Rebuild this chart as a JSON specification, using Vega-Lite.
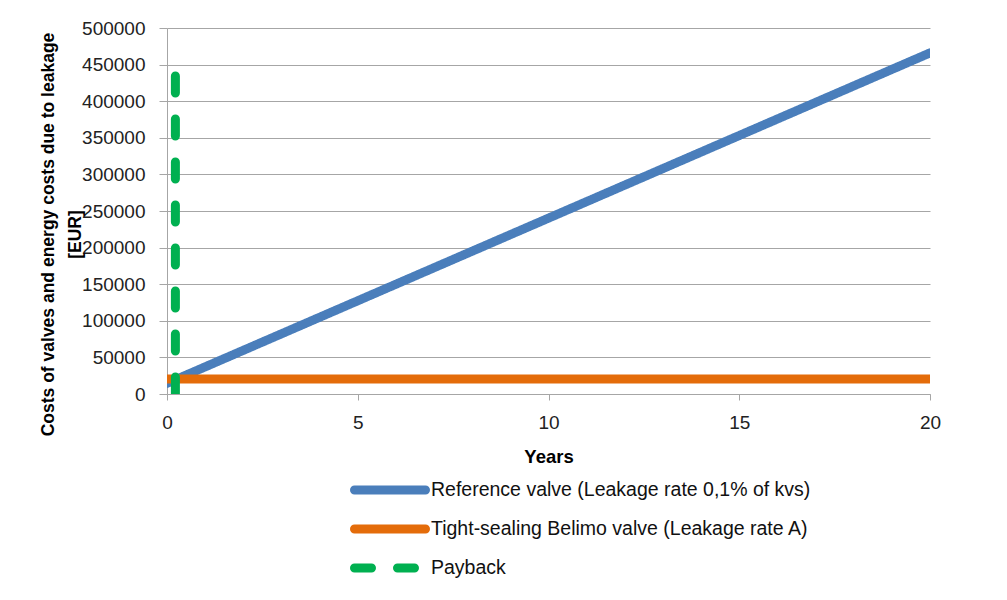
{
  "$schema": "https://vega.github.io/schema/vega-lite/v6.json",
  "width": 763,
  "height": 366,
  "autosize": {"type": "none"},
  "padding": {"left": 167, "top": 28, "right": 77, "bottom": 206},
  "background": "white",
  "config": {
    "view": {"stroke": null},
    "font": "Liberation Sans"
  },
  "data": {
    "values": [
      {"series": "Reference valve (Leakage rate 0,1% of kvs)", "year": 0, "cost": 14500},
      {"series": "Reference valve (Leakage rate 0,1% of kvs)", "year": 1, "cost": 37075},
      {"series": "Reference valve (Leakage rate 0,1% of kvs)", "year": 2, "cost": 59650},
      {"series": "Reference valve (Leakage rate 0,1% of kvs)", "year": 3, "cost": 82225},
      {"series": "Reference valve (Leakage rate 0,1% of kvs)", "year": 4, "cost": 104800},
      {"series": "Reference valve (Leakage rate 0,1% of kvs)", "year": 5, "cost": 127375},
      {"series": "Reference valve (Leakage rate 0,1% of kvs)", "year": 6, "cost": 149950},
      {"series": "Reference valve (Leakage rate 0,1% of kvs)", "year": 7, "cost": 172525},
      {"series": "Reference valve (Leakage rate 0,1% of kvs)", "year": 8, "cost": 195100},
      {"series": "Reference valve (Leakage rate 0,1% of kvs)", "year": 9, "cost": 217675},
      {"series": "Reference valve (Leakage rate 0,1% of kvs)", "year": 10, "cost": 240250},
      {"series": "Reference valve (Leakage rate 0,1% of kvs)", "year": 11, "cost": 262825},
      {"series": "Reference valve (Leakage rate 0,1% of kvs)", "year": 12, "cost": 285400},
      {"series": "Reference valve (Leakage rate 0,1% of kvs)", "year": 13, "cost": 307975},
      {"series": "Reference valve (Leakage rate 0,1% of kvs)", "year": 14, "cost": 330550},
      {"series": "Reference valve (Leakage rate 0,1% of kvs)", "year": 15, "cost": 353125},
      {"series": "Reference valve (Leakage rate 0,1% of kvs)", "year": 16, "cost": 375700},
      {"series": "Reference valve (Leakage rate 0,1% of kvs)", "year": 17, "cost": 398275},
      {"series": "Reference valve (Leakage rate 0,1% of kvs)", "year": 18, "cost": 420850},
      {"series": "Reference valve (Leakage rate 0,1% of kvs)", "year": 19, "cost": 443425},
      {"series": "Reference valve (Leakage rate 0,1% of kvs)", "year": 20, "cost": 466000},
      {"series": "Tight-sealing Belimo valve (Leakage rate A)", "year": 0, "cost": 20500},
      {"series": "Tight-sealing Belimo valve (Leakage rate A)", "year": 20, "cost": 20500},
      {"series": "Payback", "year": 0.22, "cost": 0},
      {"series": "Payback", "year": 0.22, "cost": 442000}
    ]
  },
  "mark": {"type": "line", "clip": true, "strokeCap": "round"},
  "encoding": {
    "x": {
      "field": "year",
      "type": "quantitative",
      "scale": {"domain": [0, 20], "nice": false, "zero": false},
      "axis": {
        "title": "Years",
        "values": [0, 5, 10, 15, 20],
        "grid": false,
        "domainColor": "#a6a6a6",
        "tickColor": "#a6a6a6",
        "tickSize": 6,
        "labelFontSize": 19,
        "labelColor": "#222222",
        "labelPadding": 13,
        "labelFlush": false,
        "titleFontSize": 18.5,
        "titleFontWeight": "bold",
        "titleColor": "#000000",
        "titleBaseline": "alphabetic",
        "titleY": 68
      }
    },
    "y": {
      "field": "cost",
      "type": "quantitative",
      "scale": {"domain": [0, 500000], "nice": false},
      "axis": {
        "title": ["Costs of valves and energy costs due to leakage", "[EUR]"],
        "values": [0, 50000, 100000, 150000, 200000, 250000, 300000, 350000, 400000, 450000, 500000],
        "format": "d",
        "grid": true,
        "gridColor": "#a6a6a6",
        "domainColor": "#a6a6a6",
        "tickColor": "#a6a6a6",
        "tickSize": 8,
        "labelFontSize": 19,
        "labelColor": "#222222",
        "labelPadding": 14,
        "titleFontSize": 17.5,
        "titleFontWeight": "bold",
        "titleColor": "#000000",
        "titleLineHeight": 27,
        "titleBaseline": "middle",
        "titleX": -119,
        "titleY": 206
      }
    },
    "color": {
      "field": "series",
      "type": "nominal",
      "scale": {
        "domain": ["Reference valve (Leakage rate 0,1% of kvs)", "Tight-sealing Belimo valve (Leakage rate A)", "Payback"],
        "range": ["#4a7ebb", "#e46c0a", "#00b050"]
      },
      "legend": {
        "title": null,
        "orient": "none",
        "legendX": 183,
        "legendY": 452,
        "direction": "vertical",
        "padding": 0,
        "clipHeight": 20,
        "rowPadding": 19,
        "symbolSize": 5041,
        "symbolStrokeWidth": 7,
        "symbolOffset": 0,
        "labelOffset": 1,
        "labelFontSize": 19.5,
        "labelColor": "#111111",
        "labelLimit": 600,
        "encode": {"symbols": {"update": {"strokeCap": {"value": "round"}}}}
      }
    },
    "strokeDash": {
      "field": "series",
      "type": "nominal",
      "scale": {
        "domain": ["Reference valve (Leakage rate 0,1% of kvs)", "Tight-sealing Belimo valve (Leakage rate A)", "Payback"],
        "range": [[1, 0], [1, 0], [17, 26]]
      },
      "legend": {
        "title": null,
        "orient": "none",
        "legendX": 183,
        "legendY": 452,
        "direction": "vertical",
        "padding": 0,
        "clipHeight": 20,
        "rowPadding": 19,
        "symbolSize": 5041,
        "symbolStrokeWidth": 7,
        "symbolOffset": 0,
        "labelOffset": 1,
        "labelFontSize": 19.5,
        "labelColor": "#111111",
        "labelLimit": 600,
        "encode": {"symbols": {"update": {"strokeCap": {"value": "round"}}}}
      }
    },
    "strokeWidth": {
      "field": "series",
      "type": "nominal",
      "scale": {
        "domain": ["Reference valve (Leakage rate 0,1% of kvs)", "Tight-sealing Belimo valve (Leakage rate A)", "Payback"],
        "range": [9, 9, 6]
      },
      "legend": null
    },
    "order": {"field": "cost", "type": "quantitative"}
  }
}
